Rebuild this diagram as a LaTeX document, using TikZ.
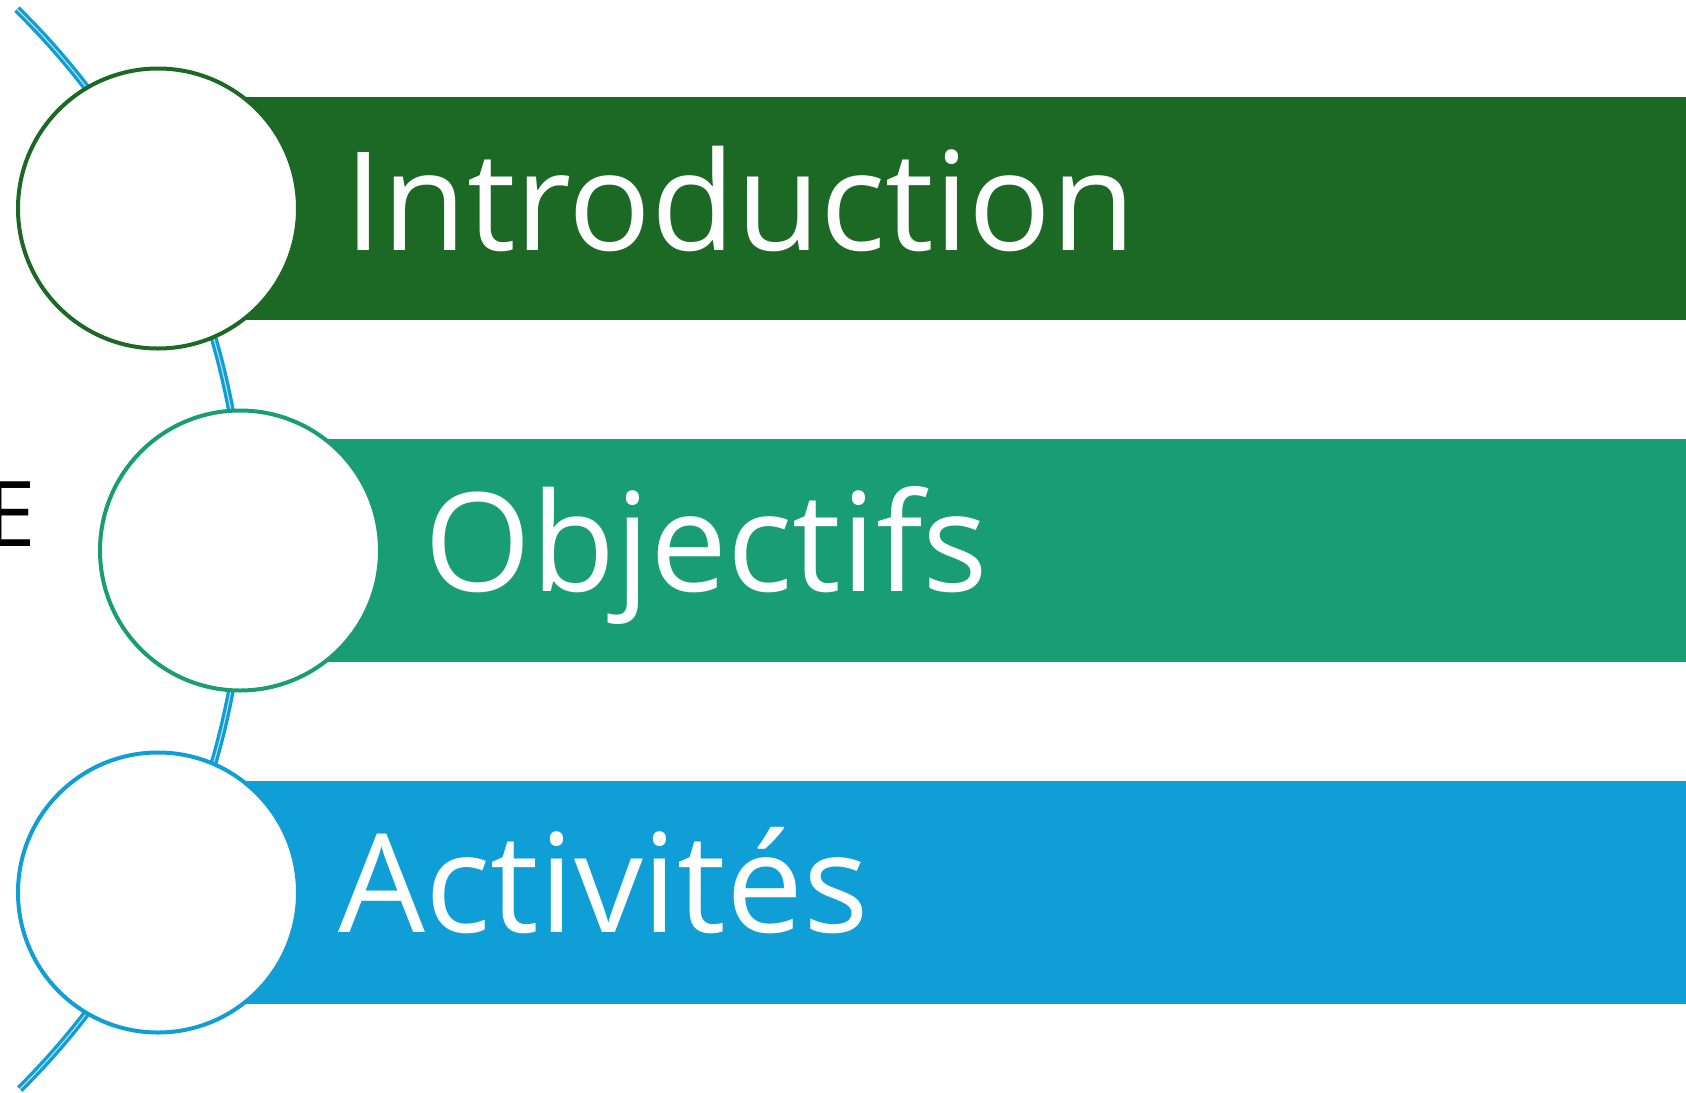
\documentclass[tikz,border=0pt]{standalone}
\usepackage{fontspec}
\setmainfont{Open Sans}

\definecolor{introgreen}{RGB}{27,105,36}
\definecolor{objteal}{RGB}{25,158,116}
\definecolor{actblue}{RGB}{16,158,214}
\definecolor{armlight}{RGB}{190,226,242}

\tikzset{every picture/.style={line width=0.75pt}}
\tikzset{
  bubble/.style={circle,draw=#1,line width=3pt,fill=white,minimum size=210pt,inner sep=0pt},
  bartext/.style={anchor=base west,inner sep=0pt,text=white,font=\fontsize{103}{110}\selectfont}
}

\begin{document}
\begin{tikzpicture}[x=0.75pt,y=0.75pt,yscale=-1,xscale=1]
\useasboundingbox (0,0) rectangle (1686,1093);

%Shape: Arc [id:arm]
\coordinate (hub) at (-515,550.5);
\draw [color=actblue,line width=2.5pt,double=armlight,double distance=0.8pt] ([shift={(-45.5:759)}]hub) arc [start angle=-45.5,end angle=45.2,radius=759];

%Shape: Rectangle [id:bar1]
\fill [introgreen] (158,97) rectangle (1686,320);
%Shape: Rectangle [id:bar2]
\fill [objteal] (240,439) rectangle (1686,662);
%Shape: Rectangle [id:bar3]
\fill [actblue] (158,781) rectangle (1686,1004);

%Shape: Circle
\node [bubble=introgreen] (c1) at (158,208.5) {};
%Shape: Circle
\node [bubble=objteal] (c2) at (240,550.5) {};
%Shape: Circle
\node [bubble=actblue] (c3) at (158,892.5) {};

% Text Node
\node [bartext] (intro) at (344,250) {Introduction};
% Text Node
\node [bartext] (obj) at (424,591) {Objectifs};
% Text Node
\node [bartext] (act) at (338,932) {Activités};
% Text Node
\node [anchor=base east,inner sep=0pt,font=\fontsize{68}{70}\selectfont] (cut) at (36,546) {E};

\end{tikzpicture}
\end{document}
